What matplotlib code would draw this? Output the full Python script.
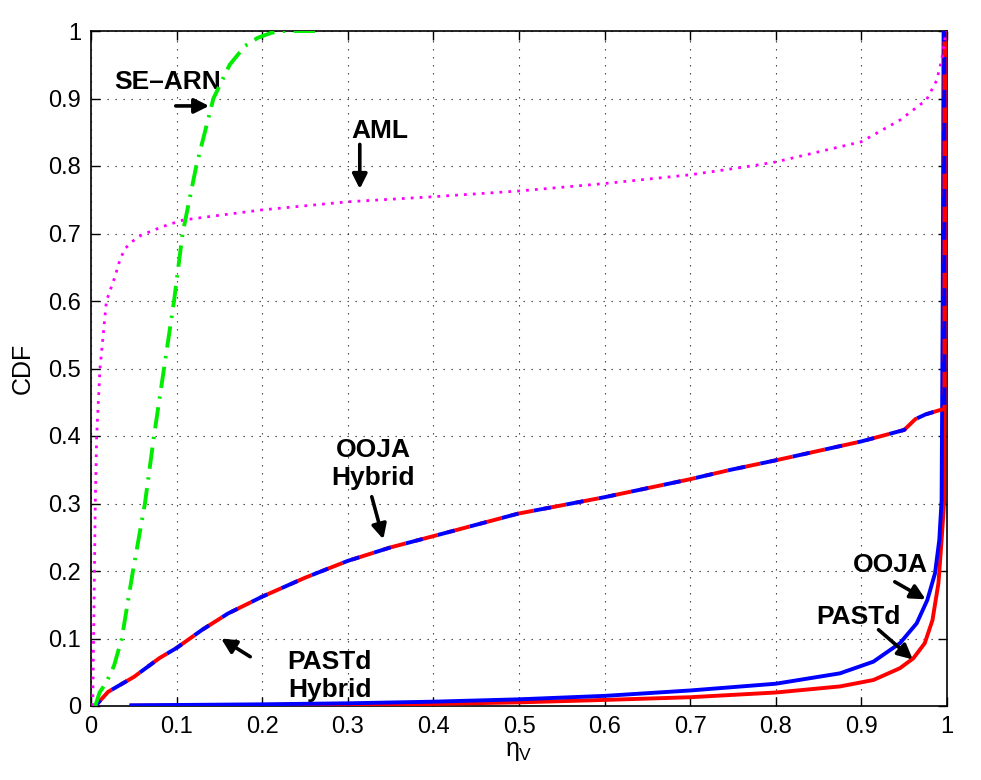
import matplotlib
matplotlib.use("Agg")
import matplotlib.pyplot as plt
import numpy as np

plt.rcParams['font.family'] = ['Liberation Sans', 'DejaVu Sans']
plt.rcParams['mathtext.fontset'] = 'custom'
plt.rcParams['mathtext.rm'] = 'Liberation Sans'
plt.rcParams['mathtext.it'] = 'Liberation Sans'

# ---------------- data ----------------
se_arn_x = [0.005, 0.010, 0.018, 0.027, 0.036, 0.049, 0.063, 0.0736, 0.0853, 0.097, 0.107,
            0.123, 0.143, 0.162, 0.180, 0.195, 0.210, 0.220, 0.240, 0.264]
se_arn_y = [0.0, 0.02, 0.035, 0.06, 0.10, 0.20, 0.30, 0.40, 0.50, 0.60, 0.70,
            0.80, 0.90, 0.95, 0.978, 0.99, 0.997, 1.0, 1.0, 1.0]

aml_x = [0.002, 0.005, 0.0066, 0.0105, 0.018, 0.028, 0.034, 0.040, 0.048, 0.058, 0.073, 0.090,
         0.108, 0.150, 0.200, 0.300, 0.400, 0.500, 0.600, 0.700, 0.766, 0.800, 0.900,
         0.945, 0.976, 0.988, 0.9937, 0.998, 1.0]
aml_y = [0.0, 0.30, 0.40, 0.50, 0.600, 0.636, 0.662, 0.678, 0.688, 0.697, 0.705, 0.713,
         0.720, 0.727, 0.735, 0.747, 0.7545, 0.763, 0.774, 0.787, 0.799, 0.806, 0.836,
         0.868, 0.898, 0.927, 0.957, 0.992, 1.0]

hyb_x = [0.005, 0.020, 0.050, 0.080, 0.100, 0.130, 0.160, 0.200, 0.250, 0.300, 0.350,
         0.404, 0.499, 0.5985, 0.700, 0.746, 0.800, 0.900, 0.950, 0.963, 0.975, 0.992,
         0.997, 0.997]
ooja_hyb_y = [0.0, 0.021, 0.043, 0.071, 0.086, 0.113, 0.137, 0.162, 0.190, 0.215, 0.235,
              0.253, 0.285, 0.309, 0.336, 0.3496, 0.364, 0.392, 0.409, 0.425, 0.432, 0.4385,
              0.44, 1.0]
pastd_hyb_y = [0.0, 0.021, 0.043, 0.071, 0.086, 0.113, 0.137, 0.162, 0.190, 0.215, 0.235,
               0.253, 0.285, 0.309, 0.336, 0.3496, 0.364, 0.392, 0.409, 0.425, 0.432, 0.4385,
               0.44, 1.0]

ooja_x = [0.045, 0.100, 0.200, 0.300, 0.400, 0.500, 0.600, 0.700, 0.800, 0.875, 0.914,
          0.945, 0.9646, 0.977, 0.986, 0.991, 0.9937, 0.995, 0.996]
ooja_y = [0.001, 0.0015, 0.0025, 0.004, 0.0064, 0.0099, 0.015, 0.023, 0.033, 0.0484, 0.0657,
          0.093, 0.1225, 0.157, 0.1966, 0.246, 0.305, 0.60, 1.0]

pastd_x = [0.045, 0.100, 0.200, 0.300, 0.400, 0.500, 0.600, 0.700, 0.800, 0.875, 0.914,
           0.945, 0.9607, 0.974, 0.983, 0.990, 0.9937, 0.9968, 0.9985]
pastd_y = [0.0005, 0.001, 0.0015, 0.002, 0.003, 0.0054, 0.009, 0.013, 0.020, 0.029, 0.0385,
           0.056, 0.0707, 0.093, 0.127, 0.182, 0.246, 0.305, 1.0]

xticks = [0, 0.1, 0.2, 0.3, 0.4, 0.5, 0.6, 0.7, 0.8, 0.9, 1]
yticks = [0, 0.1, 0.2, 0.3, 0.4, 0.5, 0.6, 0.7, 0.8, 0.9, 1]
xtick_labels = ['0', '0.1', '0.2', '0.3', '0.4', '0.5', '0.6', '0.7', '0.8', '0.9', '1']
ytick_labels = ['0', '0.1', '0.2', '0.3', '0.4', '0.5', '0.6', '0.7', '0.8', '0.9', '1']

# ---------------- figure ----------------
fig = plt.figure(figsize=(9.81, 7.80), dpi=100)
ax = fig.add_axes([91/981, 1 - 706/780, (947-91)/981, (706-31)/780])

lw = 2.8
ax.plot(pastd_x, pastd_y, color=(1, 0, 0), lw=lw, solid_capstyle='butt',
        solid_joinstyle='round', zorder=3)
ax.plot(ooja_x, ooja_y, color=(0, 0, 1), lw=lw, solid_capstyle='butt',
        solid_joinstyle='round', zorder=3)
ax.plot(hyb_x, pastd_hyb_y, color=(1, 0, 0), lw=lw, linestyle=(0, (6, 2.5)), zorder=4)
ax.plot(hyb_x, ooja_hyb_y, color=(0, 0, 1), lw=lw, linestyle=(2.5, (4.5, 4)), zorder=4)
ax.plot(aml_x, aml_y, color=(1, 0, 1), lw=2.0, linestyle=(0, (1, 2.2)), zorder=4)
ax.plot(se_arn_x, se_arn_y, color=(0, 0.93, 0), lw=2.8,
        linestyle=(0, (5.5, 2.2, 0.6, 2.2)), zorder=4)

ax.set_xlim(0, 1)
ax.set_ylim(0, 1)
ax.set_xticks(xticks)
ax.set_xticklabels(xtick_labels)
ax.set_yticks(yticks)
ax.set_yticklabels(ytick_labels)
ax.tick_params(direction='in', length=6.5, width=1.0, top=True, right=True,
               labelsize=17, pad=7)
for s in ax.spines.values():
    s.set_linewidth(1.2)
ax.grid(True, color='#303030', linestyle=(0, (1.2, 6)), linewidth=0.8)
ax.set_axisbelow(True)

ax.set_xlabel(r'$\eta_V$', fontsize=18, labelpad=1)
ax.set_ylabel('CDF', fontsize=18, labelpad=10)

# ---------------- annotations ----------------
ann_kw = dict(fontsize=19, fontweight='bold', ha='center', va='center')
arr = dict(arrowstyle='-|>', lw=2.6, color='k', mutation_scale=22, shrinkA=0, shrinkB=0)

ax.text(0.089, 0.924, 'SE–ARN', **ann_kw)
ax.annotate('', xy=(0.138, 0.889), xytext=(0.099, 0.889), arrowprops=arr)

ax.text(0.338, 0.852, 'AML', **ann_kw)
ax.annotate('', xy=(0.314, 0.766), xytext=(0.314, 0.832), arrowprops=arr)

ax.text(0.33, 0.359, 'OOJA\nHybrid', linespacing=1.2, **ann_kw)
ax.annotate('', xy=(0.3415, 0.247), xytext=(0.328, 0.310), arrowprops=arr)

ax.text(0.279, 0.045, 'PASTd\nHybrid', linespacing=1.2, **ann_kw)
ax.annotate('', xy=(0.152, 0.100), xytext=(0.186, 0.073), arrowprops=arr)

ax.text(0.934, 0.209, 'OOJA', **ann_kw)
ax.annotate('', xy=(0.975, 0.158), xytext=(0.939, 0.184), arrowprops=arr)

ax.text(0.897, 0.132, 'PASTd', **ann_kw)
ax.annotate('', xy=(0.960, 0.069), xytext=(0.920, 0.113), arrowprops=arr)

fig.savefig('out.png', dpi=100)
